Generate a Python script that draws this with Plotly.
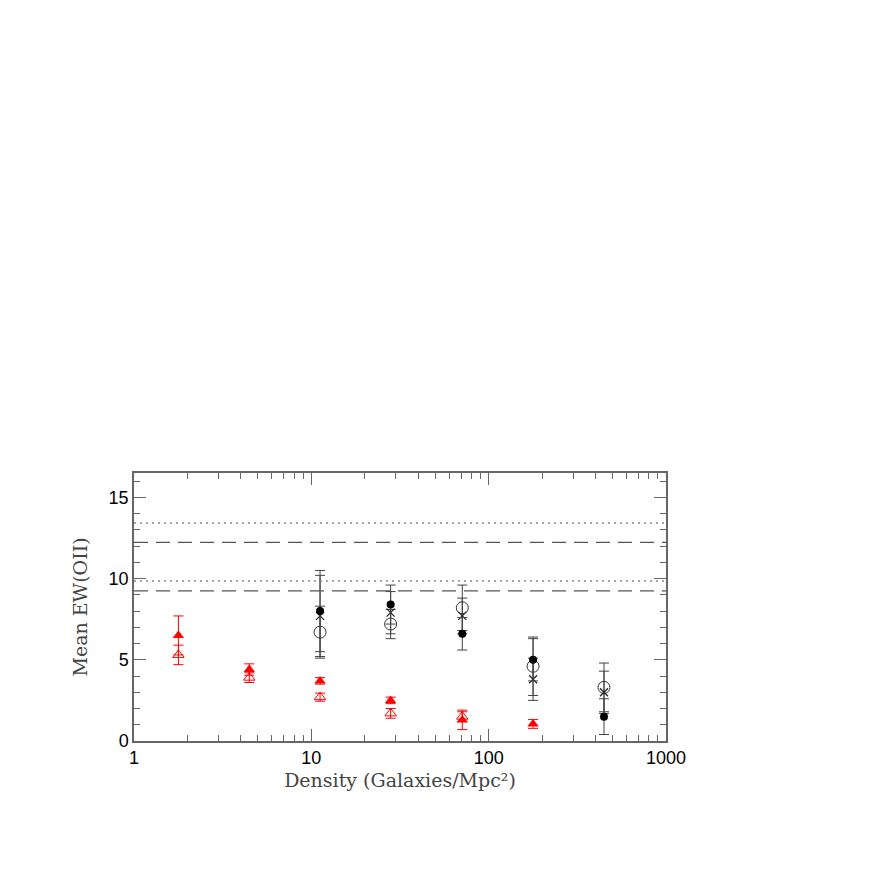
import plotly.graph_objects as go

# ---- data ----
density_black = [11.2, 28.0, 71.0, 178.0, 447.0]
ew_filled_circle = [8.0, 8.4, 6.6, 5.0, 1.5]
err_filled_circle = [2.5, 1.2, 1.0, 1.3, 1.1]
ew_cross = [7.7, 7.9, 7.7, 3.8, 3.0]
err_cross = [2.5, 1.3, 1.1, 1.3, 1.3]
ew_open_circle = [6.7, 7.2, 8.2, 4.6, 3.3]
err_open_circle = [1.6, 0.9, 1.4, 1.8, 1.5]

density_red = [1.78, 4.47, 11.2, 28.0, 71.0, 178.0]
ew_red_filled = [6.5, 4.4, 3.7, 2.5, 1.3, 1.05]
err_red_filled = [1.2, 0.35, 0.2, 0.2, 0.6, 0.27]
density_red_open = [1.78, 4.47, 11.2, 28.0, 71.0]
ew_red_open = [5.3, 3.9, 2.7, 1.7, 1.5]
err_red_open = [0.6, 0.3, 0.25, 0.3, 0.3]

ref_dotted = [13.42, 9.85]
ref_dashed = [12.23, 9.24]

x_ticks = [1, 10, 100, 1000]
x_minor = [m * d for d in (1, 10, 100) for m in range(2, 10)]

AXIS_COL = "#666666"
RED = "#ff0000"
TITLE_FONT = dict(family="DejaVu Serif, serif", size=19, color="#444444")

fig = go.Figure()

# reference levels
for y in ref_dotted:
    fig.add_hline(y=y, line=dict(color="#888888", width=1.5, dash="2px,4px"))
for y in ref_dashed:
    fig.add_hline(y=y, line=dict(color="#555555", width=1.2, dash="14px,8px"))


def err(vals, color):
    return dict(type="data", array=vals, visible=True, color=color, thickness=1, width=5)


fig.add_trace(go.Scatter(
    x=density_red, y=ew_red_filled, mode="markers",
    marker=dict(symbol="triangle-up", size=10, color=RED),
    error_y=err(err_red_filled, RED),
))
fig.add_trace(go.Scatter(
    x=density_red_open, y=ew_red_open, mode="markers",
    marker=dict(symbol="triangle-up-open", size=10, color=RED, line=dict(width=1)),
    error_y=err(err_red_open, RED),
))
fig.add_trace(go.Scatter(
    x=density_black, y=ew_open_circle, mode="markers",
    marker=dict(symbol="circle-open", size=12, color="#333333", line=dict(width=1)),
    error_y=err(err_open_circle, "#444444"),
))
fig.add_trace(go.Scatter(
    x=density_black, y=ew_cross, mode="markers",
    marker=dict(symbol="x-thin-open", size=8, color="#222222", line=dict(width=1.2)),
    error_y=err(err_cross, "#444444"),
))
fig.add_trace(go.Scatter(
    x=density_black, y=ew_filled_circle, mode="markers",
    marker=dict(symbol="circle", size=8, color="black"),
    error_y=err(err_filled_circle, "#444444"),
))

fig.update_xaxes(
    type="log", range=[0, 3],
    tickvals=x_ticks, ticktext=[str(v) for v in x_ticks],
    ticks="inside", ticklen=12, tickcolor=AXIS_COL,
    minor=dict(tickvals=x_minor, ticks="inside", ticklen=6, tickcolor=AXIS_COL),
    showline=True, linecolor=AXIS_COL, linewidth=1.5, mirror="allticks",
    showgrid=False, zeroline=False,
    tickfont=dict(family="Liberation Sans, Arial, sans-serif", size=18, color="black"),
    title=dict(text="Density (Galaxies/Mpc²)", standoff=6, font=TITLE_FONT),
)
fig.update_yaxes(
    range=[0, 16.5], dtick=5, tick0=0,
    ticks="inside", ticklen=12, tickcolor=AXIS_COL,
    minor=dict(dtick=1, ticks="inside", ticklen=6, tickcolor=AXIS_COL),
    showline=True, linecolor=AXIS_COL, linewidth=1.5, mirror="allticks",
    showgrid=False, zeroline=False,
    tickfont=dict(family="Liberation Sans, Arial, sans-serif", size=18, color="black"),
    title=dict(text="Mean EW(OII)", standoff=16, font=TITLE_FONT),
)

# the page body adds an 8px offset, so margins are shifted to land the plot box
fig.update_layout(
    width=872, height=872,
    margin=dict(l=126, r=214, t=465, b=139),
    plot_bgcolor="white", paper_bgcolor="white",
    showlegend=False,
)

fig.write_html("out.html")
